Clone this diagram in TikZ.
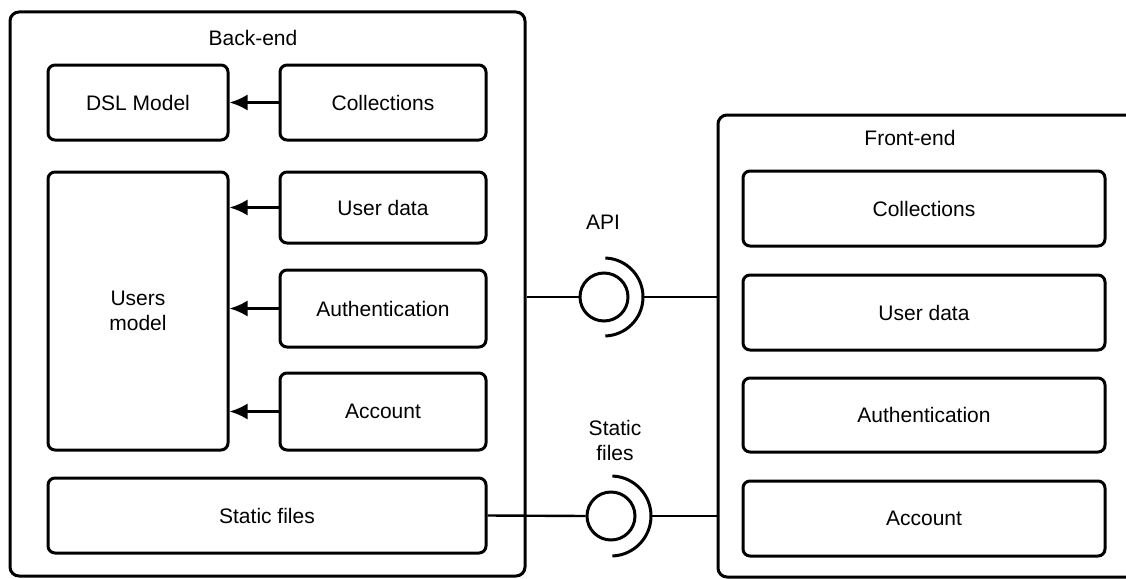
\documentclass[tikz,border=0pt]{standalone}
\usepackage{fontspec}
\setmainfont{Liberation Sans}
\usetikzlibrary{arrows.meta,positioning}

\tikzset{
  part/.style={draw, line width=3pt, rounded corners=7pt, align=center,
    font=\fontsize{21}{25}\selectfont},
  holder/.style={draw, line width=3pt, rounded corners=9pt},
  feed/.style={line width=2.4pt, -{Latex[length=18pt,width=16pt]}},
  wire/.style={line width=2.4pt},
  ball/.style={draw, circle, line width=3pt, minimum size=48pt, inner sep=0pt},
  caption/.style={align=center, font=\fontsize{21}{25}\selectfont}
}

\begin{document}
\begin{tikzpicture}[x=1pt, y=-1pt]
            \useasboundingbox (0,0) rectangle (1126,578);
            \clip (0,0) rectangle (1126,578);
            \fill[white] (0,0) rectangle (1126,578);

            % First, the two containers and their titles
            \node (backend) [holder, minimum width=515pt, minimum height=564pt] at (267.5, 294) {};
            \node (betitle) [caption] at (253, 38) {Back-end};

            \node (frontend) [holder, minimum width=422pt, minimum height=462pt] at (929, 346) {};
            \node (fetitle) [caption] at (910, 138) {Front-end};

            % Back-end parts
            \node (dslmodel) [part, minimum width=180pt, minimum height=75pt] at (138, 102.5) {DSL Model};
            \node (bcollect) [part, minimum width=206pt, minimum height=75pt] at (383, 102.5) {Collections};

            \node (usersmodel) [part, minimum width=180pt, minimum height=278pt] at (138, 311) {Users\\model};
            \node (buserdata) [part, minimum width=206pt, minimum height=71pt] at (383, 207.5) {User data};
            \node (bauth) [part, minimum width=206pt, minimum height=77pt] at (383, 308.5) {Authentication};
            \node (baccount) [part, minimum width=206pt, minimum height=77pt] at (383, 411.5) {Account};

            \node (bstatic) [part, minimum width=438pt, minimum height=75pt] at (267, 515.5) {Static files};

            % Front-end parts
            \node (fcollect) [part, minimum width=362pt, minimum height=75pt] at (924, 208.5) {Collections};
            \node (fuserdata) [part, minimum width=362pt, minimum height=75pt] at (924, 312.5) {User data};
            \node (fauth) [part, minimum width=362pt, minimum height=74pt] at (924, 415) {Authentication};
            \node (faccount) [part, minimum width=362pt, minimum height=75pt] at (924, 518.5) {Account};

            % Interfaces
            \node (apiball) [ball] at (604, 297) {};
            \node (apilabel) [caption] at (603, 222) {API};
            \coordinate (apitip) at ([xshift=39pt]apiball.center);

            \node (sfball) [ball] at (611, 516) {};
            \node (sflabel) [caption] at (615, 440) {Static\\files};
            \coordinate (sftip) at ([xshift=40pt]sfball.center);

            % Arrows into the models
            \draw [feed] (bcollect.west) -- (dslmodel.east);
            \draw [feed] (buserdata.west) -- (usersmodel.east |- buserdata.west);
            \draw [feed] (bauth.west) -- (usersmodel.east |- bauth.west);
            \draw [feed] (baccount.west) -- (usersmodel.east |- baccount.west);

            % Sockets
            \draw [line width=3pt] ([shift={(88:39pt)}]apiball.center) arc[start angle=88, end angle=-88, radius=39pt];
            \draw [line width=3pt] ([shift={(88:40pt)}]sfball.center) arc[start angle=88, end angle=-88, radius=40pt];

            % Now draw the lines:
            \draw [wire] (backend.east |- apiball) -- (apiball.west);
            \draw [wire] (apitip) -- (frontend.west |- apitip);
            \draw [wire] (bstatic.east) -- (sfball.west);
            \draw [wire] (sftip) -- (frontend.west |- sftip);
        \end{tikzpicture}
\end{document}
